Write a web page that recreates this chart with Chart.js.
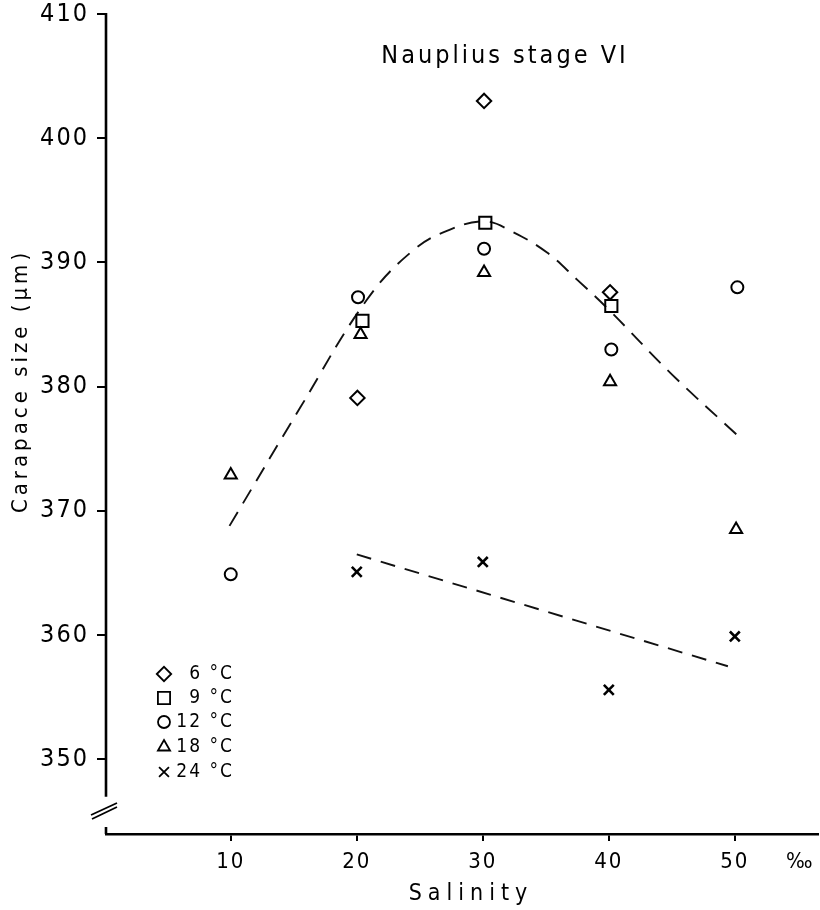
<!DOCTYPE html>
<html><head><meta charset="utf-8">
<script src="https://cdn.jsdelivr.net/npm/chart.js@4.4.0/dist/chart.umd.min.js"></script>
<style>html,body{margin:0;padding:0;background:#fff}#wrap{width:820px;height:910px;position:relative}</style>
</head><body><div id="wrap"><canvas id="c" width="820" height="910"></canvas></div>
<script>
// ---- data ----
const chartTitle = 'Nauplius stage VI';
const yTitle = 'Carapace size (µm)';
const xTitle = 'Salinity';
const xUnit = '‰';
const xUnitAt = 55.2;
const seriesLabels = ['6 °C', '9 °C', '12 °C', '18 °C', '24 °C'];
const seriesStyles = ['rectRot', 'rect', 'circle', 'triangle', 'crossRot'];

const x6 = [20.05, 30.1, 40.1];
const y6 = [379.1, 403.0, 387.6];
const x9 = [20.45, 30.2, 40.2];
const y9 = [385.3, 393.2, 386.5];
const x12 = [10, 20.1, 30.1, 40.2, 50.2];
const y12 = [364.9, 387.2, 391.1, 383.0, 388.0];
const x18 = [10, 20.3, 30.1, 40.1, 50.1];
const y18 = [372.9, 384.2, 389.2, 380.4, 368.5];
const x24 = [20, 30, 40, 50];
const y24 = [365.1, 365.9, 355.6, 359.9];

const upperFitX = [9.9, 15.5, 20.8, 24.5, 27.4, 30.2, 32.3, 35.1, 37.5, 40.0, 45.0, 50.3];
const upperFitY = [368.8, 378.3, 387.0, 391.0, 392.65, 393.3, 392.5, 390.8, 388.6, 386.2, 381.0, 376.0];
const lowerFitX = [20, 49.45];
const lowerFitY = [366.5, 357.5];

const yTicks = [350, 360, 370, 380, 390, 400, 410];
const xTicks = [10, 20, 30, 40, 50];
const yMin = 344, yMax = 410, xMin = 0.1, xMax = 56.6;
const yBreak = 347.0;

// ---- build ----
const pts = (xs, ys) => xs.map((x, i) => ({x: x, y: ys[i]}));
const FONT = '"DejaVu Sans Condensed", "DejaVu Sans", sans-serif';
const markerSets = [[x6, y6], [x9, y9], [x12, y12], [x18, y18], [x24, y24]];
const radii = [7.2, 8.6, 6, 7, 7];

const datasets = markerSets.map((s, i) => ({
  label: seriesLabels[i],
  data: pts(s[0], s[1]),
  pointStyle: seriesStyles[i],
  pointRadius: radii[i],
  pointBorderWidth: i === 4 ? 2.6 : 2,
  borderColor: '#000',
  backgroundColor: 'rgba(0,0,0,0)',
  showLine: false
}));
datasets.push({
  label: 'fit upper', data: pts(upperFitX, upperFitY), showLine: true,
  pointRadius: 0, borderColor: '#111', borderWidth: 1.9, borderDash: [16, 10],
  tension: 0.4, fill: false
});
datasets.push({
  label: 'fit lower', data: pts(lowerFitX, lowerFitY), showLine: true,
  pointRadius: 0, borderColor: '#111', borderWidth: 1.9, borderDash: [15, 10], fill: false
});

const decor = {
  id: 'decor',
  beforeDraw(chart) { chart.ctx.letterSpacing = '2px'; },
  afterDraw(chart) {
    const ctx = chart.ctx, ys = chart.scales.y, xs = chart.scales.x, ca = chart.chartArea;
    ctx.save();
    ctx.strokeStyle = '#000';
    ctx.lineWidth = 2.6;
    // y axis line (broken)
    ctx.beginPath();
    ctx.moveTo(ca.left, ys.getPixelForValue(yMax) - 1);
    ctx.lineTo(ca.left, ys.getPixelForValue(yBreak));
    ctx.stroke();
    // small tick at x-axis start
    ctx.beginPath();
    ctx.moveTo(ca.left, ca.bottom - 7);
    ctx.lineTo(ca.left, ca.bottom);
    ctx.stroke();
    // break marks
    ctx.lineWidth = 1.8;
    ctx.beginPath();
    ctx.moveTo(ca.left - 15, ca.bottom - 19); ctx.lineTo(ca.left + 11, ca.bottom - 31);
    ctx.moveTo(ca.left - 14, ca.bottom - 15); ctx.lineTo(ca.left + 11, ca.bottom - 27);
    ctx.stroke();
    ctx.fillStyle = '#000';
    ctx.textAlign = 'center'; ctx.textBaseline = 'middle';
    // unit label on x axis
    ctx.letterSpacing = '2px';
    ctx.font = '22px ' + FONT;
    ctx.fillText(xUnit, xs.getPixelForValue(xUnitAt), ca.bottom + 28);
    // title
    ctx.letterSpacing = '3px';
    ctx.font = '25px ' + FONT;
    ctx.fillText(chartTitle, 505, 56);
    // x title
    ctx.letterSpacing = '6px';
    ctx.font = '23px ' + FONT;
    ctx.fillText(xTitle, 471, 894);
    // y title
    ctx.save();
    ctx.translate(21, 381);
    ctx.rotate(-Math.PI / 2);
    ctx.letterSpacing = '4px';
    ctx.font = '22px ' + FONT;
    ctx.fillText(yTitle, 0, 0);
    ctx.restore();
    // legend
    ctx.letterSpacing = '2px';
    ctx.font = '19px ' + FONT;
    ctx.textAlign = 'right';
    const rowsY = [674, 698, 722, 747, 772];
    seriesLabels.forEach((lab, i) => {
      ctx.fillStyle = 'rgba(0,0,0,0)';
      Chart.helpers.drawPoint(ctx, {pointStyle: seriesStyles[i], radius: radii[i], rotation: 0, borderWidth: i === 4 ? 2.6 : 2}, 164, rowsY[i]);
      ctx.fillStyle = '#000';
      ctx.fillText(lab, 234, rowsY[i]);
    });
    ctx.restore();
  }
};

new Chart(document.getElementById('c'), {
  type: 'scatter',
  data: {datasets: datasets},
  options: {
    responsive: false, animation: false,
    layout: {autoPadding: false, padding: {left: 0, right: 2, top: 14, bottom: 0}},
    plugins: {legend: {display: false}, tooltip: {enabled: false}, title: {display: false}},
    scales: {
      x: {
        type: 'linear', min: xMin, max: xMax,
        afterBuildTicks: s => { s.ticks = xTicks.map(v => ({value: v})); },
        afterFit: s => { s.height = 76; s.paddingLeft = 0; s.paddingRight = 0; },
        border: {display: true, color: '#000', width: 2.6},
        grid: {display: true, drawOnChartArea: false, drawTicks: true, tickLength: 7, lineWidth: 2, color: '#000'},
        ticks: {color: '#000', font: {family: FONT, size: 22}, padding: 8, callback: v => String(v)},
        title: {display: false}
      },
      y: {
        type: 'linear', min: yMin, max: yMax,
        afterBuildTicks: s => { s.ticks = yTicks.map(v => ({value: v})); },
        afterFit: s => { s.width = 106; s.paddingTop = 0; s.paddingBottom = 0; },
        border: {display: false},
        grid: {display: true, drawOnChartArea: false, drawTicks: true, tickLength: 9, lineWidth: 2, color: '#000'},
        ticks: {color: '#000', font: {family: FONT, size: 25}, padding: 8, callback: v => String(v)}
      }
    }
  },
  plugins: [decor]
});
</script></body></html>
